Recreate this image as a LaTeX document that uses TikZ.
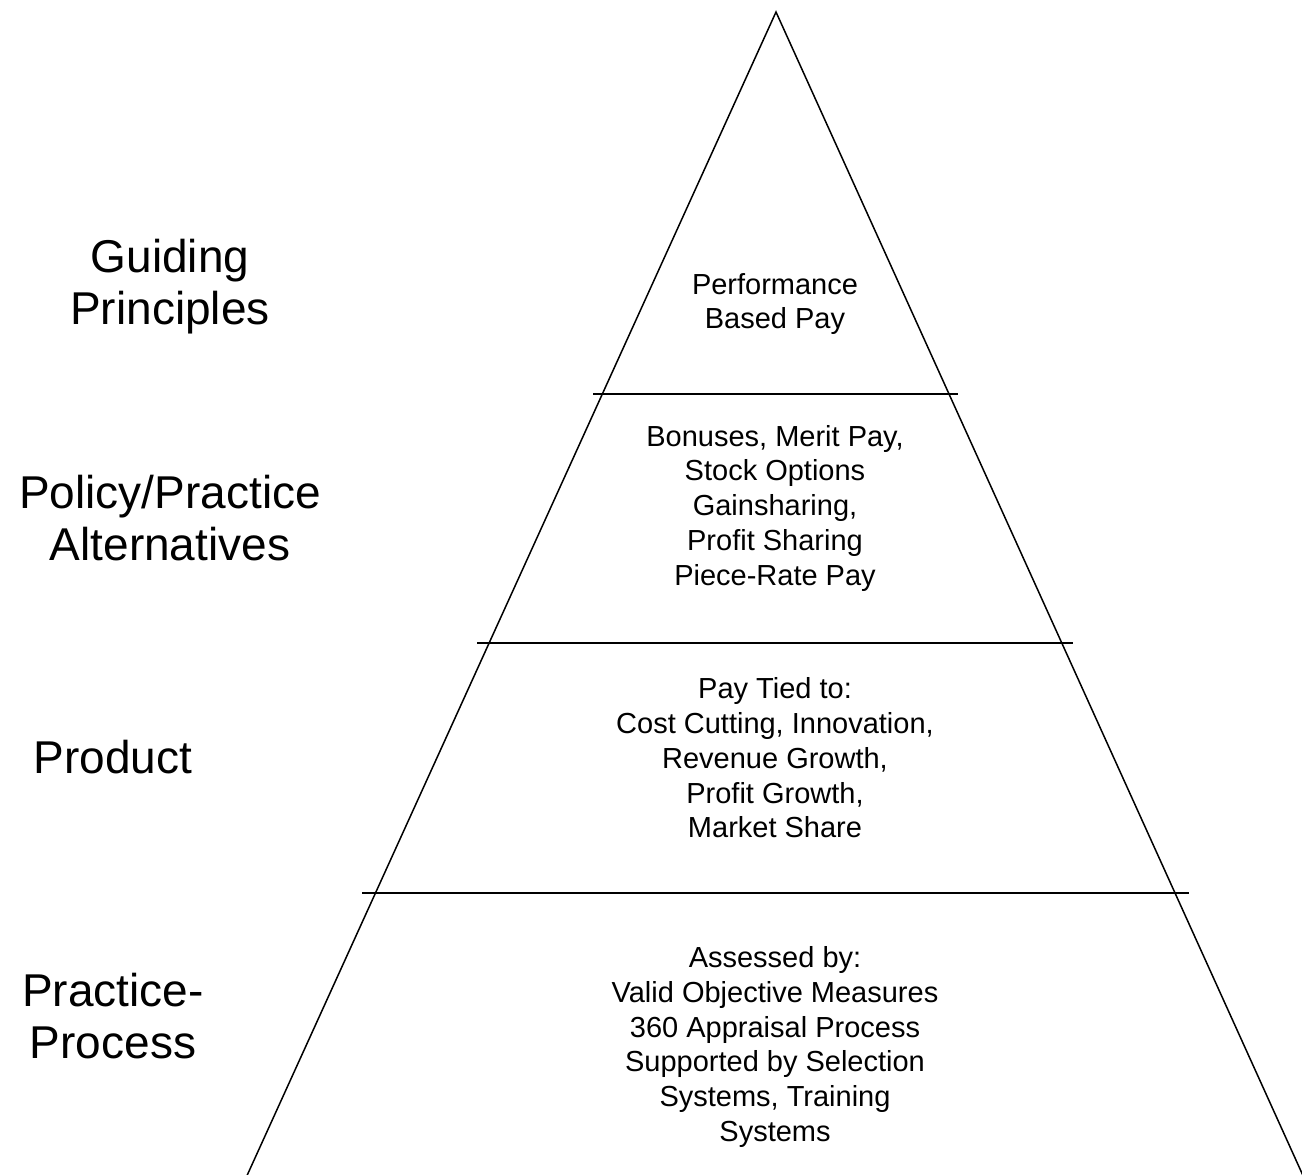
\documentclass[tikz,border=0pt]{standalone}
\usepackage{fontspec}
\setmainfont{Liberation Sans}
\begin{document}
\begin{tikzpicture}[x=1pt,y=-1pt,
  edge/.style={line width=1.5pt,black},
  inner/.style={align=center,inner sep=0pt,font=\fontsize{29}{34.75}\selectfont},
  outer/.style={align=center,inner sep=0pt,font=\fontsize{46}{52}\selectfont}]
\useasboundingbox[fill=white] (0,0) rectangle (1302,1175);
\coordinate (apex) at (776,12);
\coordinate (bl) at (245,1180);
\coordinate (br) at (1305,1180);
\draw[edge] (bl) -- (apex) -- (br);
\coordinate (l1a) at (593,394); \coordinate (l1b) at (958,394);
\coordinate (l2a) at (477,643); \coordinate (l2b) at (1073,643);
\coordinate (l3a) at (362,893); \coordinate (l3b) at (1189,893);
\draw[edge] (l1a) -- (l1b);
\draw[edge] (l2a) -- (l2b);
\draw[edge] (l3a) -- (l3b);
\node[inner] (t1) at (775,304) {Performance\\Based Pay};
\node[inner] (t2) at (775,508) {Bonuses, Merit Pay,\\Stock Options\\Gainsharing,\\Profit Sharing\\Piece-Rate Pay};
\node[inner] (t3) at (775,758) {Pay Tied to:\\Cost Cutting, Innovation,\\Revenue Growth,\\Profit Growth,\\Market Share};
\node[inner] (t4) at (775,1047) {Assessed by:\\Valid Objective Measures\\360 Appraisal Process\\Supported by Selection\\Systems, Training\\Systems};
\node[outer] (g1) at (170,287) {Guiding\\Principles};
\node[outer] (g2) at (170,518) {Policy/Practice\\Alternatives};
\node[outer] (g3) at (113,757) {Product};
\node[outer] (g4) at (113,1016) {Practice-\\Process};
\end{tikzpicture}
\end{document}
